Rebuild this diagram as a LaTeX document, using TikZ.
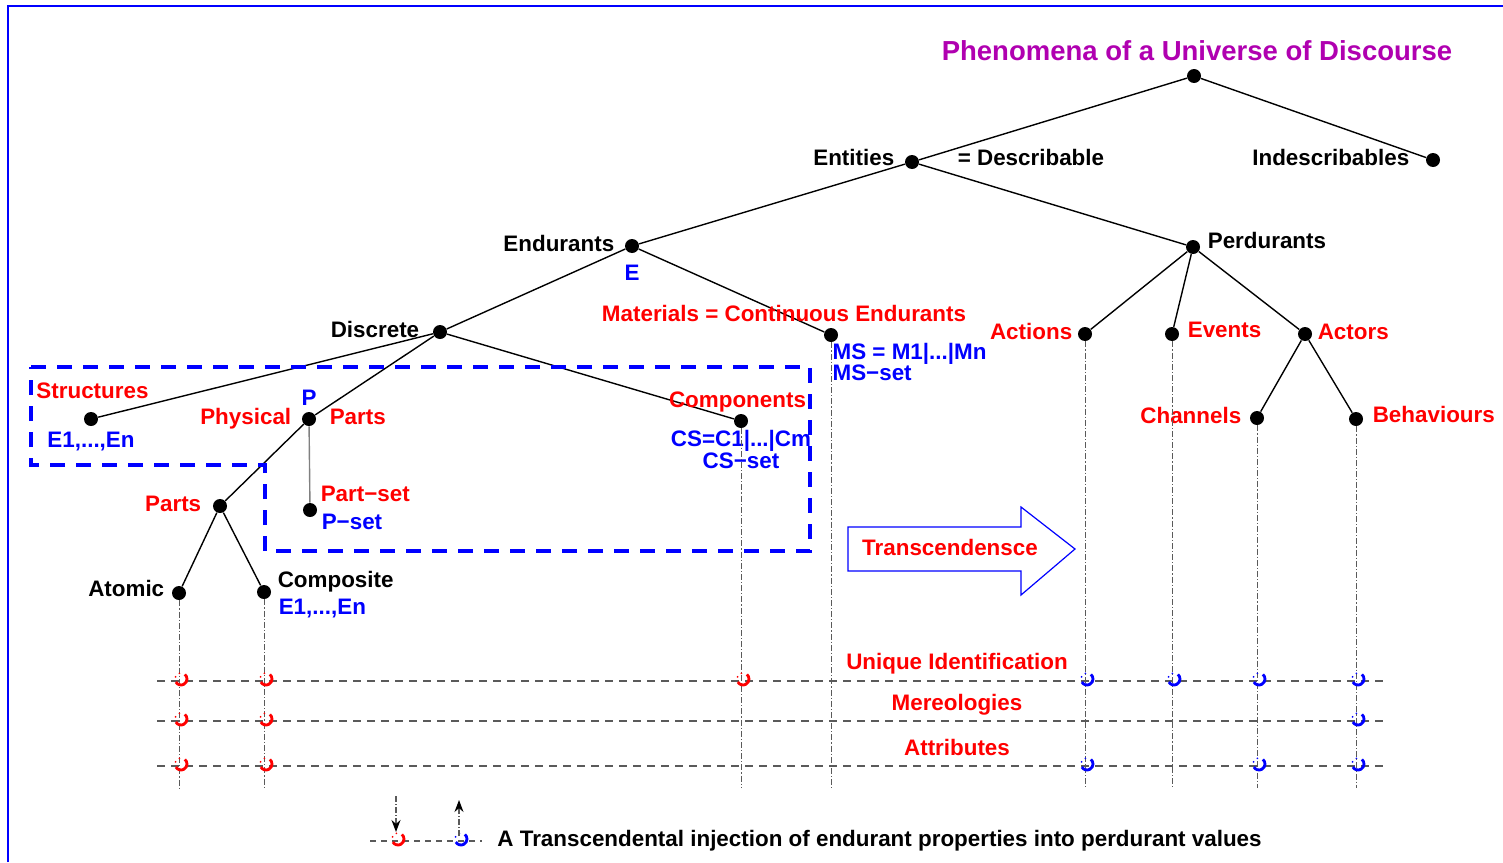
\documentclass[tikz,border=0pt]{standalone}
\usepackage{fontspec}
\setmainfont{Liberation Sans}
\usepackage{tikz}
\usetikzlibrary{positioning}
\usetikzlibrary{arrows.meta}
\usepackage{xcolor}

\definecolor{titlemag}{RGB}{176,0,176}
\definecolor{guidegray}{RGB}{90,90,90}

% injection mark: colour, point
\newcommand{\injmark}[2]{%
  \draw[#1, line width=1.4pt] (#2) ++(2,-2) ++(150:6) arc[start angle=150, end angle=-50, radius=6];
  \draw[#1, line width=0.7pt, dotted] (#2) ++(2,-2) ++(195:6) arc[start angle=195, end angle=260, radius=6];
}

\begin{document}
\begin{tikzpicture}[
  x=0.5pt, y=-0.5pt,
  font=\fontsize{11.2pt}{13pt}\selectfont\bfseries,
  dot/.style={circle, fill=black, inner sep=0pt, minimum size=7pt},
  lbl/.style={inner sep=1pt, text height=0.72em, text depth=0.2em},
  redlbl/.style={lbl, text=red},
  bluelbl/.style={lbl, text=blue},
  branch/.style={line width=0.7pt},
  guide/.style={guidegray, line width=0.5pt, dash pattern=on 3pt off 1pt on 0.6pt off 1pt},
  layer/.style={guidegray, line width=0.6pt, dash pattern=on 4pt off 3pt},
  dashbox/.style={blue, line width=2.3pt, dash pattern=on 7.5pt off 5.5pt},
  frame/.style={blue, line width=1pt},
  legarrow/.style={-{Stealth[length=6pt, width=4.5pt, color=black]}, guidegray, line width=0.6pt, dash pattern=on 3pt off 1pt on 0.6pt off 1pt}
]
\useasboundingbox (0,0) rectangle (1503,862);
\draw[frame] (8,862) -- (8,6) -- (1503,6);

% tree of phenomena
\node[dot] (root) at (1194,76) {};
\node[dot] (ent) at (912,162) {};
\node[dot] (indes) at (1433,160) {};
\node[dot] (endu) at (632,246) {};
\node[dot] (perd) at (1193,247) {};
\node[dot] (disc) at (440,332) {};
\node[dot] (mat) at (831,335) {};
\node[dot] (act) at (1085,334) {};
\node[dot] (evt) at (1172,334) {};
\node[dot] (actr) at (1305,334) {};
\node[dot] (struc) at (91,419) {};
\node[dot] (phys) at (309,419) {};
\node[dot] (cmpt) at (741,421) {};
\node[dot] (chan) at (1257,418) {};
\node[dot] (behv) at (1356,419) {};
\node[dot] (parts) at (220,506) {};
\node[dot] (pset) at (310,510) {};
\node[dot] (atom) at (179,593) {};
\node[dot] (compo) at (264,592) {};

\draw[branch] (root) -- (ent);
\draw[branch] (root) -- (indes);
\draw[branch] (ent) -- (endu);
\draw[branch] (ent) -- (perd);
\draw[branch] (endu) -- (disc);
\draw[branch] (endu) -- (mat);
\draw[branch] (disc) -- (struc);
\draw[branch] (disc) -- (phys);
\draw[branch] (disc) -- (cmpt);
\draw[branch] (perd) -- (act);
\draw[branch] (perd) -- (evt);
\draw[branch] (perd) -- (actr);
\draw[branch] (actr) -- (chan);
\draw[branch] (actr) -- (behv);
\draw[branch] (phys) -- (parts);
\draw[branch, gray] (phys) -- (pset);
\draw[branch] (parts) -- (atom);
\draw[branch] (parts) -- (compo);

% labels
\node[lbl, text=titlemag, font=\fontsize{13.75pt}{16pt}\selectfont\bfseries, above=1pt of root, xshift=1.5pt] (title) {Phenomena of a Universe of Discourse};
\node[lbl, left=4pt of ent, yshift=1pt] (entl) {Entities};
\node[lbl, right=18pt of ent, yshift=1pt] (descr) {= Describable};
\node[lbl, left=7pt of indes] (indesl) {Indescribables};
\node[lbl, left=4pt of endu] (endul) {Endurants};
\node[bluelbl, below=5pt of endu] (endue) {E};
\node[lbl, right=2.5pt of perd, yshift=2pt] (perdl) {Perdurants};
\node[lbl, left=5.5pt of disc] (discl) {Discrete};
\node[redlbl, above=0pt of mat, xshift=-23.5pt] (matl) {Materials = Continuous Endurants};
\node[bluelbl, below right=1.3pt and -3pt of mat] (msa) {MS = M1|...|Mn};
\node[bluelbl, below=-1pt of msa.south west, anchor=north west] (msb) {MS−set};
\node[redlbl, left=1.5pt of act] (actl) {Actions};
\node[redlbl, right=3pt of evt, yshift=1pt] (evtl) {Events};
\node[redlbl, right=1.5pt of actr] (actrl) {Actors};
\node[redlbl, above=3.3pt of struc, xshift=0.75pt] (strucl) {Structures};
\node[bluelbl, below=2.3pt of struc] (struce) {E1,...,En};
\node[redlbl, left=4pt of phys] (physl) {Physical};
\node[bluelbl, above=0pt of phys] (physp) {P};
\node[redlbl, right=5.5pt of phys] (physr) {Parts};
\node[redlbl, above=0pt of cmpt, xshift=-1.75pt] (cmptl) {Components};
\node[bluelbl, below=0.8pt of cmpt] (cmpta) {CS=C1|...|Cm};
\node[bluelbl, below=-1pt of cmpta] (cmptb) {CS−set};
\node[redlbl, left=3pt of chan] (chanl) {Channels};
\node[redlbl, right=3.5pt of behv, yshift=1pt] (behvl) {Behaviours};
\node[redlbl, left=4.5pt of parts] (partsl) {Parts};
\node[redlbl, right=0.5pt of pset, yshift=7pt] (psetl) {Part−set};
\node[bluelbl, right=1pt of pset, yshift=-7pt] (psetp) {P−set};
\node[lbl, left=2.5pt of atom, yshift=1pt] (atoml) {Atomic};
\node[lbl, right=2pt of compo, yshift=5pt] (compol) {Composite};
\node[bluelbl, right=2.5pt of compo, yshift=-8.5pt] (compoe) {E1,...,En};

% grouped endurants
\draw[dashbox] (31,367) -- (810,367) -- (810,551) -- (265,551) -- (265,465) -- (31,465) -- cycle;

% transcendence arrow
\draw[blue, line width=0.6pt] (848,527) -- (1021,527) -- (1021,507) -- (1075,549) -- (1021,595) -- (1021,571) -- (848,571) -- cycle;
\node[redlbl] (trans) at (950,550) {Transcendensce};

% property layers
\coordinate (bot) at (0,788);
\foreach \n in {atom,compo,cmpt,mat,act,evt,chan,behv}
  \draw[guide] (\n) -- (\n |- bot);

\coordinate (uidL) at (157,681); \coordinate (uidR) at (1388,681);
\coordinate (merL) at (157,721); \coordinate (merR) at (1386,721);
\coordinate (attL) at (157,766); \coordinate (attR) at (1386,766);
\draw[layer] (uidL) -- (uidR);
\draw[layer] (merL) -- (merR);
\draw[layer] (attL) -- (attR);
\node[redlbl] (uidl) at (957,664) {Unique Identification};
\node[redlbl] (merl) at (957,705) {Mereologies};
\node[redlbl] (attl) at (957,750) {Attributes};

\foreach \n in {atom,compo,cmpt} {\injmark{red}{\n |- uidL}}
\foreach \n in {atom,compo} {\injmark{red}{\n |- merL} \injmark{red}{\n |- attL}}
\foreach \n in {act,evt,chan,behv} {\injmark{blue}{\n |- uidL}}
\injmark{blue}{behv |- merL}
\foreach \n in {act,chan,behv} {\injmark{blue}{\n |- attL}}

% legend
\coordinate (legL) at (370,841); \coordinate (legR) at (482,841);
\draw[layer, dash pattern=on 3pt off 2.5pt] (legL) -- (legR);
\coordinate (legin) at (396,841); \coordinate (legout) at (459,841);
\injmark{red}{legin}
\injmark{blue}{legout}
\coordinate (inTop) at (396,796); \coordinate (inTip) at (396,832);
\coordinate (outBot) at (459,836); \coordinate (outTip) at (459,800);
\draw[legarrow] (inTop) -- (inTip);
\draw[legarrow] (outBot) -- (outTip);
\node[lbl, right=6.5pt of legR] (legtext) {A Transcendental injection of endurant properties into perdurant values};

\end{tikzpicture}
\end{document}
